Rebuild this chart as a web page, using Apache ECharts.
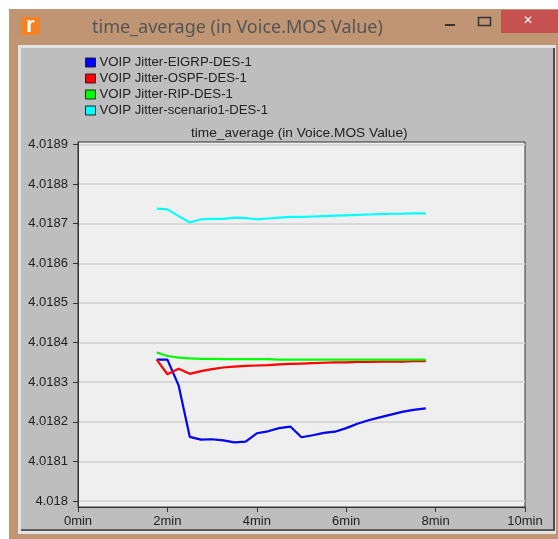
<!DOCTYPE html>
<html>
<head>
<meta charset="utf-8">
<style>
  html, body { margin: 0; padding: 0; background: #fff; }
  #main { width: 558px; height: 539px; }
</style>
<script src="https://cdn.jsdelivr.net/npm/echarts@6/dist/echarts.min.js"></script>
</head>
<body>
<div id="main"></div>
<script>
const windowTitle = "time_average (in Voice.MOS Value)";
const seriesNames = [
  "VOIP Jitter-EIGRP-DES-1",
  "VOIP Jitter-OSPF-DES-1",
  "VOIP Jitter-RIP-DES-1",
  "VOIP Jitter-scenario1-DES-1",
];
const seriesColors = ["#0000ff", "#ff0000", "#00ff00", "#00ffff"];

const yTicks = [4.018, 4.0181, 4.0182, 4.0183, 4.0184, 4.0185, 4.0186, 4.0187, 4.0188, 4.0189];

// minutes, one sample every 15 s or so
const times = [1.76, 2, 2.25, 2.5, 2.75, 3, 3.25, 3.5, 3.75, 4, 4.25, 4.5, 4.75, 5, 5.25, 5.5, 5.75, 6, 6.25, 6.5, 6.75, 7, 7.25, 7.5, 7.78];

const eigrp = [4.018357, 4.018357, 4.018292, 4.018162, 4.018155, 4.018156, 4.018153, 4.018148, 4.01815, 4.018171, 4.018176, 4.018184, 4.018188, 4.018161, 4.018166, 4.018172, 4.018175, 4.018184, 4.018195, 4.018204, 4.018211, 4.018218, 4.018225, 4.01823, 4.018234];
const ospf = [4.018357, 4.01832, 4.018334, 4.018321, 4.018328, 4.018333, 4.018337, 4.018339, 4.018341, 4.018342, 4.018343, 4.018345, 4.018346, 4.018347, 4.018348, 4.018349, 4.01835, 4.01835, 4.018351, 4.018351, 4.018352, 4.018352, 4.018352, 4.018353, 4.018353];
const rip = [4.018375, 4.018366, 4.018362, 4.01836, 4.018359, 4.018359, 4.018358, 4.018358, 4.018358, 4.018358, 4.018358, 4.018357, 4.018357, 4.018357, 4.018357, 4.018357, 4.018357, 4.018357, 4.018357, 4.018357, 4.018357, 4.018357, 4.018357, 4.018357, 4.018357];
const scenario1 = [4.018738, 4.018736, 4.018719, 4.018703, 4.018711, 4.018712, 4.018712, 4.018715, 4.018714, 4.018711, 4.018713, 4.018715, 4.018717, 4.018717, 4.018718, 4.018719, 4.01872, 4.018721, 4.018722, 4.018723, 4.018724, 4.018725, 4.018725, 4.018726, 4.018726];

const allValues = [eigrp, ospf, rip, scenario1];

const labelFont = "Liberation Sans";

function box(x, y, width, height, fill, z = -9) {
  return { type: "rect", silent: true, z, shape: { x, y, width, height }, style: { fill } };
}

function chromeGraphics() {
  return [
    box(9, 9, 549, 530, "#bf9574", -10),
    box(18, 45, 538, 489, "#e2e2e2"),
    box(21, 48, 532, 481, "#bebebe"),
    box(553, 48, 2, 483, "#4a4a4a"),
    box(21, 529, 534, 2, "#5a5a5a"),
    box(21, 17, 19, 18, "#f58220", 1),
    { type: "text", silent: true, z: 2, style: { x: 26, y: 15, text: "r", fill: "#fff", font: "bold 22px 'Liberation Sans'" } },
    box(501, 10, 57, 23, "#c75050", 1),
    { type: "text", silent: true, z: 2, style: { x: 523, y: 15, text: "✕", fill: "#fff", font: "bold 12px 'DejaVu Sans'" } },
    box(445, 24, 10, 2, "#333", 1),
    { type: "rect", silent: true, z: 1, shape: { x: 478.5, y: 17.5, width: 12, height: 8 }, style: { fill: "none", stroke: "#333", lineWidth: 1.5 } },
  ];
}

function chartOption() {
  return {
    animation: false,
    backgroundColor: "#fff",
    title: [
      {
        text: windowTitle,
        left: 92,
        top: 19,
        textStyle: { fontFamily: "Noto Sans", fontSize: 18, fontWeight: "normal", color: "#555" },
        padding: 0,
      },
      {
        text: windowTitle,
        left: 191,
        top: 126,
        textStyle: { fontFamily: labelFont, fontSize: 13.7, fontWeight: "normal", color: "#222" },
        padding: 0,
      },
    ],
    legend: {
      orient: "vertical",
      left: 85,
      top: 56,
      padding: 0,
      itemGap: 3,
      itemWidth: 10,
      itemHeight: 9,
      icon: "rect",
      itemStyle: { borderColor: "#222", borderWidth: 1 },
      textStyle: { fontFamily: labelFont, fontSize: 13.2, lineHeight: 13, color: "#222", padding: [0, 0, 0, -1] },
      data: seriesNames,
    },
    grid: {
      left: 78,
      right: 33,
      top: 142,
      bottom: 32,
      show: true,
      backgroundColor: "#efefef",
      borderColor: "#333",
      borderWidth: 1,
    },
    xAxis: {
      type: "value",
      min: 0,
      max: 10,
      interval: 2,
      axisLine: { lineStyle: { color: "#333" } },
      axisTick: { length: 5, lineStyle: { color: "#333" } },
      axisLabel: { fontFamily: labelFont, fontSize: 13, color: "#222", margin: 8, formatter: (v) => v + "min" },
      splitLine: { show: false },
    },
    yAxis: {
      type: "value",
      min: 4.017985,
      max: 4.018906,
      axisLine: { lineStyle: { color: "#333" } },
      axisTick: { length: 5, lineStyle: { color: "#333" }, customValues: yTicks },
      axisLabel: {
        fontFamily: labelFont,
        fontSize: 13,
        color: "#222",
        margin: 10,
        customValues: yTicks,
        formatter: (v) => String(+v.toFixed(4)),
      },
      splitLine: { show: true, lineStyle: { color: "#d8d8d8", width: 2 } },
    },
    graphic: chromeGraphics(),
    series: seriesNames.map((name, i) => ({
      name,
      type: "line",
      showSymbol: false,
      symbol: "none",
      color: seriesColors[i],
      lineStyle: { width: 2.2, color: seriesColors[i] },
      data: times.map((t, j) => [t, allValues[i][j]]),
    })),
  };
}

function onLoad() {
  const myChart = echarts.init(document.getElementById("main"));
  myChart.setOption(chartOption());
}

addEventListener("load", onLoad);
</script>
</body>
</html>
